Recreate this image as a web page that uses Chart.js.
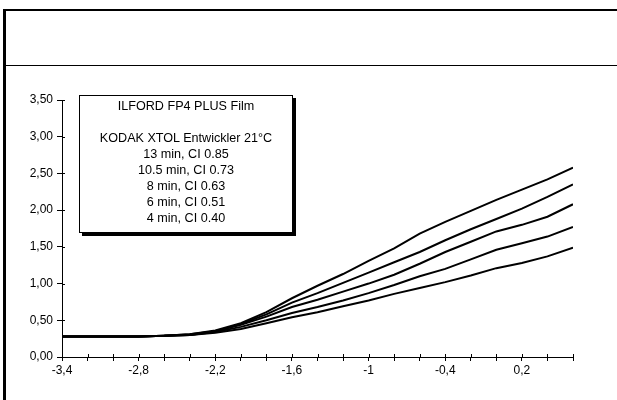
<!DOCTYPE html>
<html>
<head>
<meta charset="utf-8">
<script src="https://cdn.jsdelivr.net/npm/chart.js@4.4.1/dist/chart.umd.min.js"></script>
<style>
    html, body { margin: 0; padding: 0; background: #fff; }
    #wrap { position: relative; width: 617px; height: 400px; overflow: hidden; }
    #grafico { position: absolute; left: 0; top: 0; }
    .linha { position: absolute; background: #000; }
    #caixa {
        position: absolute; left: 79px; top: 95px; width: 212px; height: 136px;
        border: 1px solid #000; background: #fff;
        box-shadow: 3px 3px 0 #000;
        font-family: "Liberation Sans", Arial, sans-serif; font-size: 12.6px;
        text-align: center; line-height: 16px; color: #000;
    }
    #caixa div { height: 16px; }
</style>
</head>
<body>
<div id="wrap">
    <canvas id="grafico" width="617" height="400"></canvas>
    <div class="linha" style="left:3px; top:9px; width:3px; height:391px"></div>
    <div class="linha" style="left:3px; top:9px; width:614px; height:2px"></div>
    <div class="linha" style="left:3px; top:65px; width:614px; height:1px"></div>
    <div id="caixa">
        <div style="margin-top:2px">ILFORD FP4 PLUS Film</div>
        <div></div>
        <div>KODAK XTOL Entwickler 21°C</div>
        <div>13 min, CI 0.85</div>
        <div>10.5 min, CI 0.73</div>
        <div>8 min, CI 0.63</div>
        <div>6 min, CI 0.51</div>
        <div>4 min, CI 0.40</div>
    </div>
</div>
<script>
// Dados (log H -> Dichte)
const logH = [-3.4, -3.2, -3.0, -2.8, -2.6, -2.4, -2.2, -2.0, -1.8, -1.6, -1.4, -1.2, -1.0, -0.8, -0.6, -0.4, -0.2, 0.0, 0.2, 0.4, 0.6]
const min13 = [0.28, 0.28, 0.28, 0.28, 0.29, 0.31, 0.36, 0.46, 0.61, 0.80, 0.97, 1.13, 1.31, 1.48, 1.68, 1.84, 1.99, 2.14, 2.28, 2.42, 2.58]
const min105 = [0.28, 0.28, 0.28, 0.28, 0.29, 0.31, 0.35, 0.45, 0.58, 0.74, 0.87, 1.01, 1.15, 1.29, 1.43, 1.59, 1.74, 1.88, 2.02, 2.18, 2.35]
const min8 = [0.28, 0.28, 0.28, 0.28, 0.29, 0.30, 0.35, 0.44, 0.55, 0.68, 0.78, 0.89, 1.00, 1.12, 1.27, 1.43, 1.57, 1.71, 1.80, 1.91, 2.08]
const min6 = [0.28, 0.28, 0.28, 0.28, 0.29, 0.30, 0.34, 0.41, 0.50, 0.60, 0.68, 0.77, 0.87, 0.98, 1.10, 1.20, 1.33, 1.46, 1.55, 1.64, 1.77]
const min4 = [0.28, 0.28, 0.28, 0.28, 0.29, 0.30, 0.33, 0.38, 0.46, 0.54, 0.61, 0.69, 0.77, 0.86, 0.94, 1.02, 1.11, 1.21, 1.28, 1.37, 1.49]
const series = [min13, min105, min8, min6, min4]

const fonte = { family: '"Liberation Sans", Arial, sans-serif', size: 12 }

// marcas de escala cruzando o eixo (estilo Excel)
const marcasInternas = {
    id: 'marcasInternas',
    afterDraw(chart) {
        const ctx = chart.ctx
        const xs = chart.scales.x, ys = chart.scales.y
        ctx.save()
        ctx.strokeStyle = '#000'
        ctx.lineWidth = 1
        ctx.beginPath()
        xs.ticks.forEach(t => {
            const px = Math.round(xs.getPixelForValue(t.value)) + 0.5
            ctx.moveTo(px, ys.bottom)
            ctx.lineTo(px, ys.bottom - 3)
        })
        ys.ticks.forEach(t => {
            const py = Math.round(ys.getPixelForValue(t.value)) + 0.5
            ctx.moveTo(xs.left, py)
            ctx.lineTo(xs.left + 3, py)
        })
        ctx.stroke()
        ctx.restore()
    }
}

const graficoCanvas = document.getElementById('grafico')

new Chart(graficoCanvas, {
    type: 'line',
    data: {
        datasets: series.map(s => ({
            data: s.map((v, i) => ({ x: logH[i], y: v })),
            borderColor: '#000',
            borderWidth: 2,
            pointRadius: 0,
            tension: 0,
            fill: false
        }))
    },
    plugins: [marcasInternas],
    options: {
        responsive: false,
        animation: false,
        layout: { padding: { left: 0, right: 44, top: 100, bottom: 0 } },
        plugins: { legend: { display: false }, tooltip: { enabled: false } },
        scales: {
            x: {
                type: 'linear',
                min: -3.4,
                max: 0.6,
                afterFit: s => { s.height = 43 },
                border: { color: '#000', width: 1 },
                grid: { drawOnChartArea: false, color: '#000', tickLength: 4 },
                ticks: {
                    stepSize: 0.2,
                    autoSkip: false,
                    maxRotation: 0,
                    padding: 2,
                    color: '#000',
                    font: fonte,
                    callback: (v, i) => i % 3 === 0 ? String(Math.round(v * 10) / 10).replace('.', ',') : ''
                }
            },
            y: {
                min: 0,
                max: 3.5,
                afterFit: s => { s.width = 62 },
                border: { color: '#000', width: 1 },
                grid: { drawOnChartArea: false, color: '#000', tickLength: 5 },
                ticks: {
                    stepSize: 0.5,
                    padding: 4,
                    color: '#000',
                    font: fonte,
                    callback: v => v.toFixed(2).replace('.', ',')
                }
            }
        }
    }
})
</script>
</body>
</html>
